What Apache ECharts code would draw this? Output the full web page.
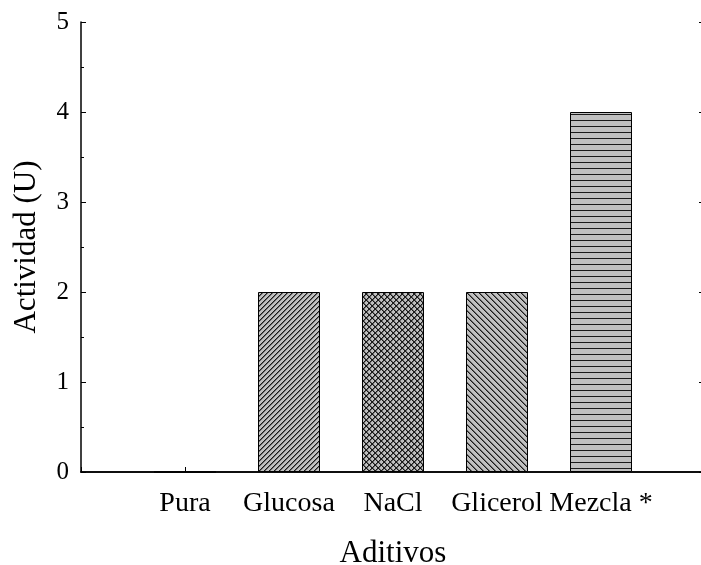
<!DOCTYPE html>
<html>
<head>
<meta charset="utf-8">
<script src="https://cdn.jsdelivr.net/npm/echarts@6/dist/echarts.min.js"></script>
<style>
  html, body { margin: 0; padding: 0; background: #fff; }
  #chart { width: 701px; height: 565px; }
</style>
</head>
<body>
<div id="chart"></div>
<script>
// Enzyme activity by additive
const categories = ['Pura', 'Glucosa', 'NaCl', 'Glicerol', 'Mezcla *'];
const actividad = [0, 2, 2, 2, 4];
const hatchKinds = ['none', 'slash', 'cross', 'backslash', 'horizontal'];
const yTicks = [0, 1, 2, 3, 4, 5];

const FONT = '"Liberation Serif", "Times New Roman", serif';
const FILL = '#c0c0c0';
const INK = '#1a1a1a';
const HALF = '#6a6a6a';

// Small repeating tiles used as bar fill patterns
function tile(size, paint) {
  const c = document.createElement('canvas');
  c.width = size; c.height = size;
  const g = c.getContext('2d');
  g.fillStyle = FILL;
  g.fillRect(0, 0, size, size);
  paint(g, size);
  return c;
}
function px(g, x, y, col) {
  g.fillStyle = col;
  g.fillRect(x, y, 1, 1);
}
const painters = {
  none: () => tile(4, () => {}),
  slash: () => tile(5, (g, s) => {
    for (let i = 0; i < s; i++) {
      px(g, (i + 1) % s, s - 1 - i, HALF);
      px(g, i, s - 1 - i, INK);
    }
  }),
  cross: () => tile(6, (g, s) => {
    for (let i = 0; i < s; i++) {
      px(g, (i + 1) % s, i, HALF);
      px(g, (i + 1) % s, s - 1 - i, HALF);
    }
    for (let i = 0; i < s; i++) {
      px(g, i, i, INK);
      px(g, i, s - 1 - i, INK);
    }
  }),
  backslash: () => tile(6, (g, s) => {
    for (let i = 0; i < s; i++) {
      px(g, (i + 1) % s, i, HALF);
      px(g, i, i, INK);
    }
  }),
  horizontal: () => tile(6, (g, s) => {
    g.fillStyle = INK;
    g.fillRect(0, 0, s, 1);
  })
};

// Blank slots at both ends give the empty space left of "Pura" and right of "Mezcla *"
const axisCategories = [''].concat(categories, ['']);
const barData = [null].concat(actividad.map((v, i) => ({
  value: v,
  itemStyle: { color: { image: painters[hatchKinds[i]](), repeat: 'repeat' } }
})), [null]);

const chart = echarts.init(document.getElementById('chart'), null, { renderer: 'canvas' });

const lineStyle = { color: '#000', width: 1.5 };

chart.setOption({
  animation: false,
  backgroundColor: '#fff',
  grid: { left: 81, top: 22, width: 624, height: 450, containLabel: false, outerBoundsMode: 'none' },
  xAxis: [{
    type: 'category',
    data: axisCategories,
    boundaryGap: false,
    axisLine: { show: true, lineStyle },
    axisTick: { show: true, inside: true, length: 5, interval: 0, lineStyle: { color: '#000', width: 1 } },
    axisLabel: { interval: 0, color: '#000', fontFamily: FONT, fontSize: 28, margin: 18 },
    splitLine: { show: false },
    name: 'Aditivos',
    nameLocation: 'middle',
    nameGap: 66,
    nameTextStyle: { color: '#000', fontFamily: FONT, fontSize: 31 }
  }, {
    type: 'category',
    position: 'top',
    data: axisCategories,
    boundaryGap: false,
    axisLine: { show: true, lineStyle },
    axisTick: { show: false },
    axisLabel: { show: false },
    splitLine: { show: false }
  }],
  yAxis: [{
    type: 'value',
    min: yTicks[0],
    max: yTicks[yTicks.length - 1],
    interval: 1,
    axisLine: { show: true, lineStyle },
    axisTick: { show: true, inside: true, length: 5, lineStyle: { color: '#000', width: 1 } },
    minorTick: { show: true, splitNumber: 2, length: 3, lineStyle: { color: '#000', width: 1 } },
    axisLabel: { color: '#000', fontFamily: FONT, fontSize: 25, margin: 12 },
    splitLine: { show: false },
    name: 'Actividad (U)',
    nameLocation: 'middle',
    nameGap: 39,
    nameRotate: 90,
    nameTextStyle: { color: '#000', fontFamily: FONT, fontSize: 31 }
  }, {
    type: 'value',
    position: 'right',
    min: yTicks[0],
    max: yTicks[yTicks.length - 1],
    interval: 1,
    axisLine: { show: true, lineStyle },
    axisTick: { show: true, inside: true, length: 6, lineStyle: { color: '#000', width: 1 } },
    minorTick: { show: false },
    axisLabel: { show: false },
    splitLine: { show: false }
  }],
  series: [{
    type: 'bar',
    data: barData,
    barWidth: 62,
    itemStyle: { borderColor: '#000', borderWidth: 1 },
    emphasis: { disabled: true }
  }]
});
</script>
</body>
</html>
